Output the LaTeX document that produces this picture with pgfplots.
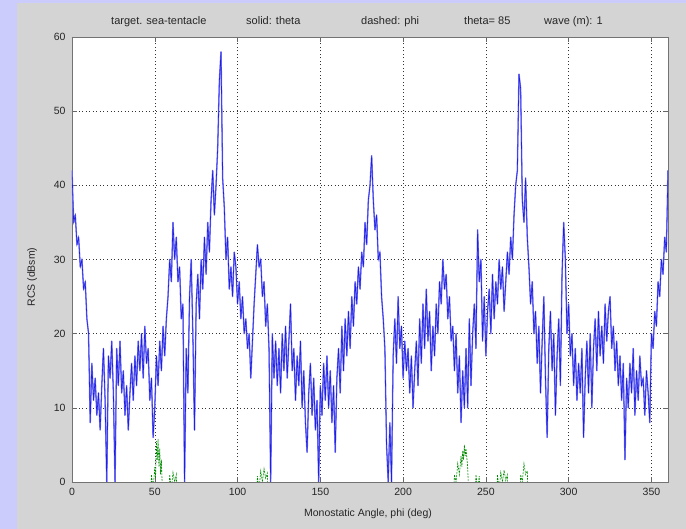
\documentclass[border=0pt]{standalone}
\usepackage{pgfplots}
\pgfplotsset{compat=1.18}
\usepackage{pgfplotstable}
\usepackage{fontspec}
\setmainfont{Liberation Sans}
\definecolor{lav}{RGB}{204,204,252}
\definecolor{figgray}{RGB}{212,212,212}
\definecolor{rcsblue}{RGB}{30,30,230}
\definecolor{rcshalo}{RGB}{135,135,245}
\definecolor{rcsgreen}{RGB}{0,140,0}

\pgfplotstableread{
x y
0 42
1 35
2 36
3 32
4 33
5 29
6 30
7 26
8 27
9 22
10 20
11 8
12 16
13 11
14 14
15 9
16 12
17 7
18 13
19 18
20 11
21 0
22 17
23 14
24 19
25 12
26 0
27 18
28 13
29 19
30 12
31 15
32 9
33 13
34 7
35 12
36 16
37 11
38 17
39 13
40 19
41 15
42 20
43 14
44 21
45 16
46 18
47 11
48 14
49 6
50 10
51 17
52 13
53 19
54 15
55 21
56 17
57 22
58 25
59 30
60 27
61 35
62 30
63 33
64 27
65 29
66 22
67 24
68 0
69 18
70 12
71 25
72 30
73 20
74 7
75 24
76 28
77 22
78 30
79 26
80 33
81 28
82 35
83 31
84 38
85 42
86 36
87 40
88 45
89 54
90 58
91 41
92 37
93 30
94 33
95 26
96 29
97 25
98 31
99 29
100 24
101 27
102 22
103 25
104 20
105 22
106 18
107 20
108 14
109 19
110 24
111 28
112 32
113 29
114 30
115 25
116 27
117 21
118 24
119 18
120 0
121 20
122 14
123 19
124 13
125 18
126 12
127 20
128 15
129 21
130 14
131 19
132 24
133 15
134 18
135 11
136 17
137 13
138 19
139 10
140 15
141 8
142 4
143 12
144 16
145 9
146 14
147 7
148 11
149 0
150 13
151 9
152 16
153 11
154 17
155 10
156 15
157 8
158 13
159 4
160 14
161 18
162 12
163 21
164 15
165 22
166 17
167 23
168 18
169 25
170 21
171 27
172 24
173 29
174 26
175 31
176 29
177 35
178 32
179 38
180 40
181 44
182 38
183 34
184 36
185 30
186 31
187 25
188 22
189 18
190 5
191 0
192 8
193 0
194 17
195 22
196 16
197 25
198 18
199 21
200 14
201 19
202 15
203 18
204 12
205 17
206 10
207 15
208 19
209 13
210 22
211 16
212 24
213 18
214 26
215 19
216 23
217 15
218 21
219 17
220 24
221 20
222 27
223 24
224 30
225 26
226 28
227 22
228 25
229 19
230 21
231 15
232 20
233 12
234 17
235 8
236 15
237 10
238 18
239 10
240 22
241 13
242 20
243 24
244 18
245 34
246 27
247 30
248 19
249 25
250 17
251 23
252 26
253 20
254 28
255 22
256 27
257 24
258 30
259 26
260 29
261 23
262 27
263 31
264 28
265 33
266 30
267 36
268 40
269 42
270 55
271 53
272 38
273 35
274 41
275 33
276 29
277 24
278 27
279 20
280 23
281 16
282 21
283 12
284 19
285 25
286 14
287 6
288 18
289 23
290 15
291 20
292 9
293 17
294 22
295 13
296 28
297 35
298 30
299 20
300 24
301 17
302 20
303 13
304 18
305 11
306 16
307 12
308 18
309 6
310 14
311 19
312 12
313 20
314 10
315 18
316 22
317 15
318 23
319 17
320 21
321 16
322 24
323 19
324 23
325 25
326 18
327 21
328 15
329 19
330 13
331 17
332 11
333 16
334 3
335 14
336 10
337 16
338 12
339 18
340 9
341 15
342 11
343 17
344 13
345 14
346 9
347 15
348 12
349 8
350 20
351 18
352 23
353 21
354 27
355 25
356 30
357 28
358 33
359 31
360 42
}\rcsdata

\begin{document}
\begin{tikzpicture}[x=1pt,y=1pt]
\fill[lav] (-72,-47) rectangle (614,482);
\fill[figgray] (-55,-47) rectangle (614,478.5);
\begin{axis}[
  at={(0,0)}, anchor=south west,
  scale only axis, width=596pt, height=445pt,
  xmin=0, xmax=360, ymin=0, ymax=60,
  xtick={0,50,...,350}, ytick={0,10,...,60},
  tick align=inside, major tick length=5pt,
  grid=major,
  major grid style={black!80, dash pattern=on 1pt off 2.5pt, line width=0.4pt},
  axis background/.style={fill=white},
  axis line style={black!55, line width=0.7pt},
  tick style={black!60, line width=0.5pt},
  ticklabel style={font=\fontsize{10.5}{12}\selectfont, text=black!85},
  /pgf/number format/assume math mode=true,
  xticklabel style={yshift=-3pt},
  yticklabel style={xshift=-3pt},
  clip=true,
]
\addplot[rcshalo, line width=1.5pt, line join=round] table[x=x,y=y] {\rcsdata};
\addplot[rcsblue, line width=0.6pt] table[x=x,y=y] {\rcsdata};
\addplot[rcsgreen, line width=0.6pt, dash pattern=on 2pt off 1pt] coordinates {
(47,-5) (48,1) (49,-1) (50,2) (50.5,0.5) (51,5.5) (51.5,3) (52,5.8) (52.5,2) (53,4.5) (53.5,1) (54,3) (55,-4)};
\addplot[rcsgreen, line width=0.6pt, dash pattern=on 2pt off 1pt] coordinates {
(58,-5) (59,1) (60,-1) (61,1.3) (62,0) (63,1) (64,-5)};
\addplot[rcsgreen, line width=0.6pt, dash pattern=on 2pt off 1pt] coordinates {
(111,-5) (112,0.8) (113,-1) (114,1.5) (115,0) (116,1.8) (117,0.5) (118,1.2) (119,-5)};
\addplot[rcsgreen, line width=0.6pt, dash pattern=on 2pt off 1pt] coordinates {
(230,-5) (231,1) (232,0) (233,2.5) (234,1) (235,3.5) (235.5,2) (236,4.2) (236.5,3) (237,5) (237.5,3.5) (238,4.5) (239,2) (240,-4)};
\addplot[rcsgreen, line width=0.6pt, dash pattern=on 2pt off 1pt] coordinates {
(243,-5) (244,1) (245,-1) (246,0.8) (247,-5)};
\addplot[rcsgreen, line width=0.6pt, dash pattern=on 2pt off 1pt] coordinates {
(256,-5) (257,1) (258,-1) (259,1.3) (260,0) (261,1.6) (262,0.2) (263,1) (264,-5)};
\addplot[rcsgreen, line width=0.6pt, dash pattern=on 2pt off 1pt] coordinates {
(270,-5) (271,1) (272,0) (273,2.5) (274,1) (275,1.5) (276,-5)};
\end{axis}
\begin{scope}[font=\fontsize{11}{13}\selectfont, text=black!85]
\node[anchor=base west, inner sep=0] at (39,457) {target. sea-tentacle};
\node[anchor=base west, inner sep=0] at (174,457) {solid: theta};
\node[anchor=base west, inner sep=0] at (289,457) {dashed: phi};
\node[anchor=base west, inner sep=0] at (392,457) {theta= 85};
\node[anchor=base west, inner sep=0] at (472,457) {wave (m): 1};
\end{scope}
\begin{scope}[font=\fontsize{10.5}{12}\selectfont, text=black!85]
\node[anchor=base, inner sep=0] at (296,-35) {Monostatic Angle, phi (deg)};
\node[anchor=base, rotate=90, inner sep=0] at (-37,205) {RCS (dBsm)};
\end{scope}
\end{tikzpicture}
\end{document}
